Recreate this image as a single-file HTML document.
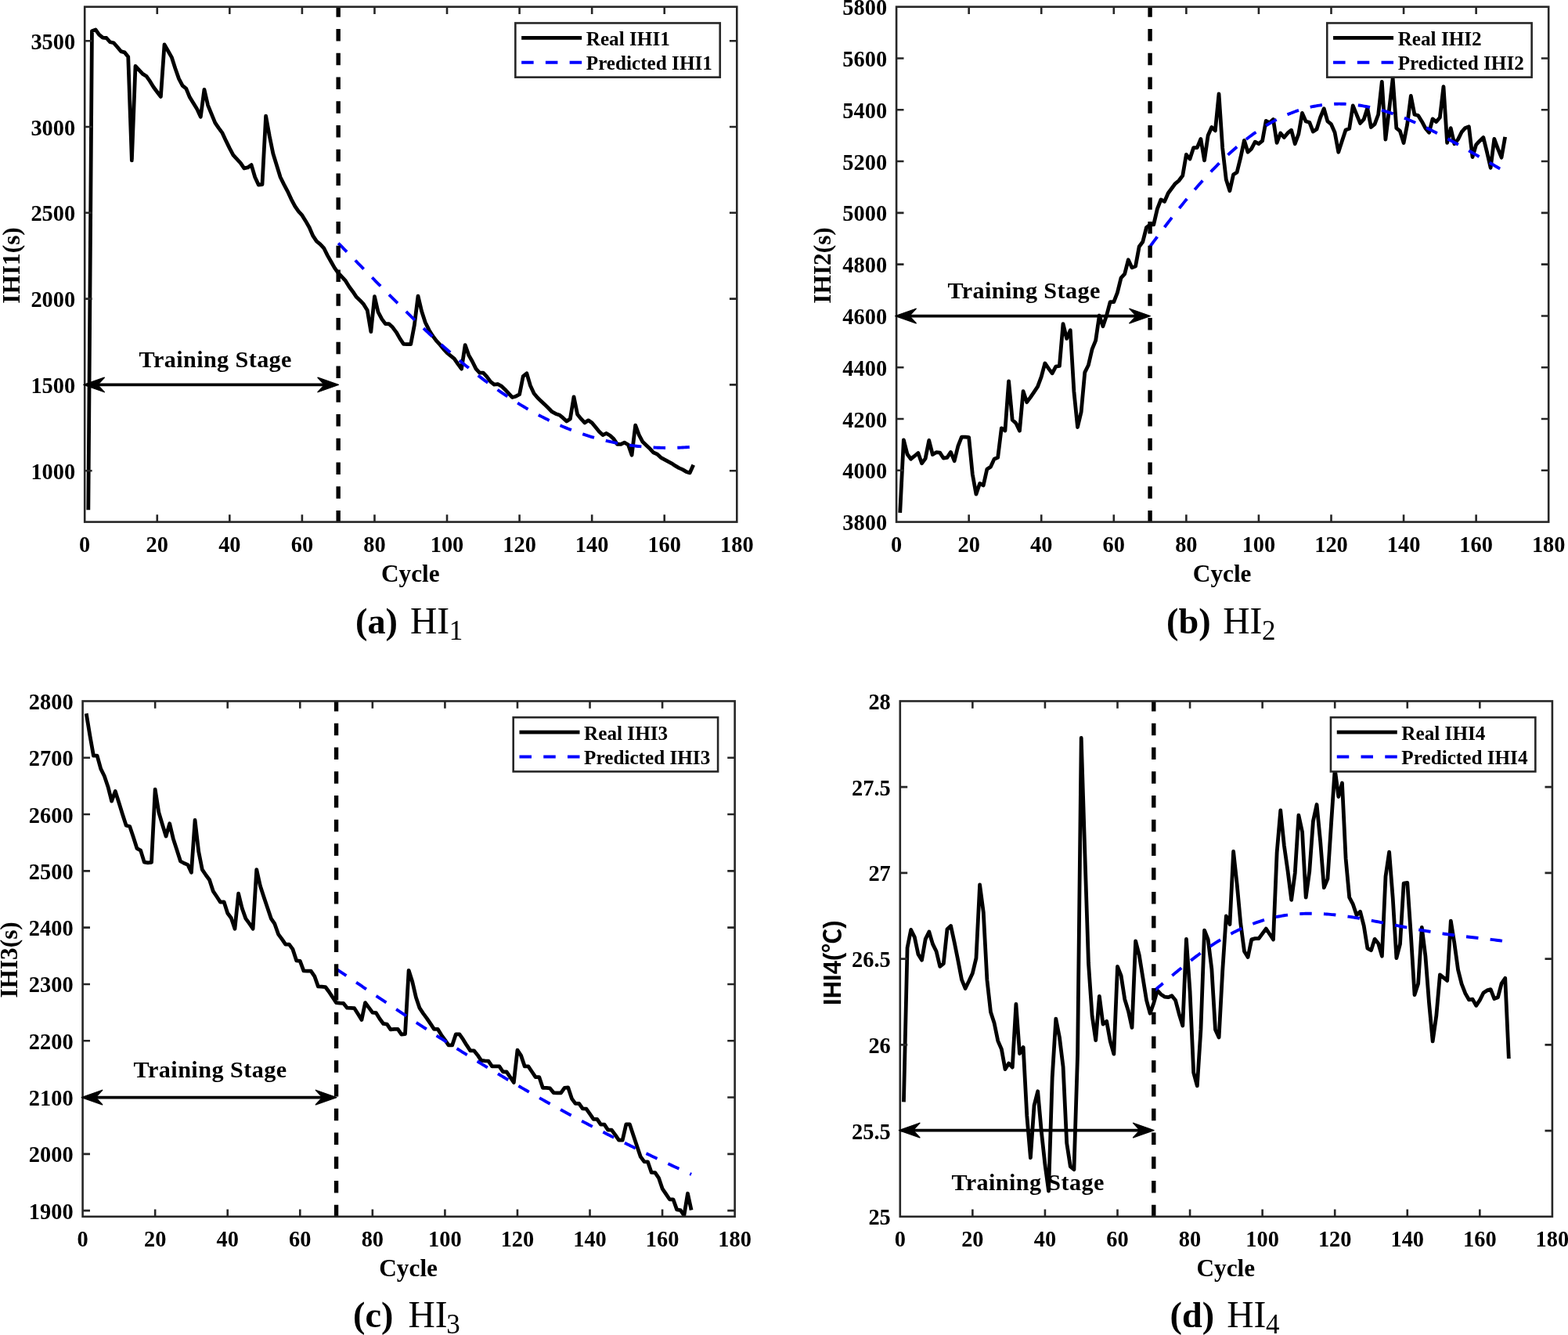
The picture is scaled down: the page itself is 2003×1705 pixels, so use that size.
<!DOCTYPE html>
<html lang="en">
<head>
<meta charset="utf-8">
<title>Predicted vs real indirect health indicators</title>
<style>
html,body{margin:0;padding:0;background:#fff;}
body{width:2003px;height:1705px;overflow:hidden;}
svg{display:block;}
text{fill:#000;}
</style>
</head>
<body>
<svg width="2003" height="1705" viewBox="0 0 2003 1705">
<rect x="0" y="0" width="2003" height="1705" fill="#fff"/>
<g class="chart" id="chart-a">
<clipPath id="clip-a"><rect x="108.2" y="8.7" width="833.1" height="657.9"/></clipPath>
<g clip-path="url(#clip-a)">
<polyline points="112.83,651.2 117.46,39.74 122.09,37.87 126.71,44.36 131.34,48.11 135.97,48.49 140.6,53.73 145.23,54.73 149.86,59.98 154.48,65.6 159.11,66.85 163.74,72.47 168.37,204.91 173,84.34 177.62,89.34 182.25,94.34 186.88,97.21 191.51,103.71 196.14,111.2 200.77,117.45 205.39,123.45 210.02,56.86 214.65,64.98 219.28,73.1 223.91,87.47 228.54,100.58 233.16,109.33 237.79,113.08 242.42,124.32 247.05,131.82 251.68,139.32 256.31,149.31 260.94,114.33 265.56,134.32 270.19,145.56 274.82,156.81 279.45,163.68 284.08,169.93 288.7,179.92 293.33,189.35 297.96,198.1 302.59,203.09 307.22,208.09 311.85,214.96 316.47,213.96 321.1,210.59 325.73,226.21 330.36,236.2 334.99,235.58 339.62,148.12 344.25,173.73 348.87,196.22 353.5,211.21 358.13,226.21 362.76,235.58 367.39,244.32 372.01,254.32 376.64,263.06 381.27,269.94 385.9,274.93 390.53,282.43 395.16,290.55 399.78,301.17 404.41,308.04 409.04,311.79 413.67,316.79 418.3,326.16 422.93,334.28 427.55,342.4 432.18,348.72 436.81,353.72 441.44,358.72 446.07,366.21 450.7,372.46 455.32,379.33 459.95,383.7 464.58,388.7 469.21,396.2 473.84,423.68 478.47,378.71 483.09,398.7 487.72,407.44 492.35,413.69 496.98,413.69 501.61,418.06 506.24,424.31 510.86,432.43 515.49,439.3 520.12,439.55 524.75,439.68 529.38,414.94 534.01,378.08 538.63,397.45 543.26,411.81 547.89,421.18 552.52,428.68 557.15,434.93 561.78,439.93 566.4,445.55 571.03,450.54 575.66,454.29 580.29,458.04 584.92,464.91 589.55,471.16 594.17,440.55 598.8,453.67 603.43,461.79 608.06,471.16 612.69,476.16 617.32,476.16 621.95,481.15 626.57,487.4 631.2,491.15 635.83,490.52 640.46,493.1 645.09,497.47 649.71,502.47 654.34,507.47 658.97,506.22 663.6,503.72 668.23,480.6 672.86,476.86 677.49,492.47 682.11,502.47 686.74,508.09 691.37,512.46 696,516.84 700.63,521.21 705.25,525.96 709.88,528.46 714.51,529.96 719.14,533.7 723.77,538.08 728.4,534.95 733.02,506.84 737.65,529.33 742.28,534.95 746.91,539.95 751.54,536.83 756.17,539.95 760.79,545.57 765.42,551.19 770.05,555.57 774.68,553.44 779.31,556.19 783.94,560.56 788.56,567.44 793.19,567.44 797.82,565.19 802.45,568.06 807.08,581.18 811.71,543.07 816.34,555.57 820.96,564.31 825.59,568.69 830.22,573.06 834.85,578.06 839.48,579.93 844.11,584.3 848.73,586.8 853.36,589.3 857.99,591.8 862.62,594.92 867.25,597.67 871.87,599.67 876.5,602.42 881.13,603.92 885.76,593.67" fill="none" stroke="#000" stroke-width="4.8" stroke-linejoin="round" stroke-linecap="butt"/>
<polyline points="432.18,310.6 434.46,312.9 436.74,315.2 439.02,317.51 441.3,319.82 443.58,322.13 445.86,324.45 448.14,326.76 450.42,329.08 452.7,331.4 454.98,333.73 457.26,336.05 459.53,338.37 461.81,340.7 464.09,343.02 466.37,345.35 468.65,347.67 470.93,349.99 473.21,352.31 475.49,354.63 477.77,356.95 480.05,359.26 482.33,361.57 484.61,363.88 486.89,366.19 489.17,368.49 491.44,370.79 493.72,373.08 496,375.37 498.28,377.66 500.56,379.94 502.84,382.21 505.12,384.48 507.4,386.74 509.68,389 511.96,391.25 514.24,393.5 516.52,395.74 518.8,397.97 521.08,400.19 523.35,402.41 525.63,404.61 527.91,406.81 530.19,409.01 532.47,411.19 534.75,413.36 537.03,415.53 539.31,417.69 541.59,419.83 543.87,421.97 546.15,424.1 548.43,426.21 550.71,428.32 552.99,430.42 555.26,432.5 557.54,434.58 559.82,436.64 562.1,438.7 564.38,440.74 566.66,442.77 568.94,444.78 571.22,446.79 573.5,448.78 575.78,450.76 578.06,452.73 580.34,454.69 582.62,456.63 584.9,458.56 587.17,460.48 589.45,462.38 591.73,464.27 594.01,466.15 596.29,468.01 598.57,469.86 600.85,471.69 603.13,473.51 605.41,475.31 607.69,477.1 609.97,478.88 612.25,480.64 614.53,482.39 616.8,484.12 619.08,485.83 621.36,487.53 623.64,489.22 625.92,490.89 628.2,492.54 630.48,494.18 632.76,495.8 635.04,497.41 637.32,499 639.6,500.57 641.88,502.13 644.16,503.67 646.44,505.2 648.71,506.71 650.99,508.2 653.27,509.67 655.55,511.13 657.83,512.57 660.11,514 662.39,515.41 664.67,516.8 666.95,518.17 669.23,519.53 671.51,520.87 673.79,522.19 676.07,523.49 678.35,524.78 680.62,526.05 682.9,527.3 685.18,528.54 687.46,529.76 689.74,530.96 692.02,532.14 694.3,533.3 696.58,534.45 698.86,535.58 701.14,536.69 703.42,537.79 705.7,538.86 707.98,539.92 710.26,540.96 712.53,541.98 714.81,542.99 717.09,543.98 719.37,544.95 721.65,545.9 723.93,546.83 726.21,547.75 728.49,548.65 730.77,549.53 733.05,550.39 735.33,551.24 737.61,552.06 739.89,552.87 742.17,553.66 744.44,554.44 746.72,555.2 749,555.94 751.28,556.66 753.56,557.36 755.84,558.05 758.12,558.72 760.4,559.37 762.68,560 764.96,560.62 767.24,561.22 769.52,561.8 771.8,562.37 774.08,562.92 776.35,563.45 778.63,563.96 780.91,564.46 783.19,564.94 785.47,565.4 787.75,565.85 790.03,566.28 792.31,566.7 794.59,567.09 796.87,567.48 799.15,567.84 801.43,568.19 803.71,568.52 805.99,568.84 808.26,569.14 810.54,569.42 812.82,569.69 815.1,569.95 817.38,570.18 819.66,570.41 821.94,570.61 824.22,570.81 826.5,570.98 828.78,571.14 831.06,571.29 833.34,571.42 835.62,571.54 837.9,571.64 840.17,571.73 842.45,571.81 844.73,571.87 847.01,571.91 849.29,571.94 851.57,571.96 853.85,571.97 856.13,571.96 858.41,571.94 860.69,571.9 862.97,571.85 865.25,571.79 867.53,571.72 869.81,571.63 872.08,571.53 874.36,571.42 876.64,571.3 878.92,571.16 881.2,571.02 883.48,570.86 885.76,570.69" fill="none" stroke="#0000ff" stroke-width="3.9" stroke-dasharray="15.5 15.25"/>
<line x1="432.18" y1="6.3" x2="432.18" y2="706.6" stroke="#000" stroke-width="5.4" stroke-dasharray="15.5 15.25"/>
</g>
<text x="275.05" y="469.4" text-anchor="middle" font-family='"Liberation Serif", serif' font-weight="bold" font-size="30.2" textLength="194.9" lengthAdjust="spacing">Training Stage</text>
<rect x="108.2" y="8.7" width="833.1" height="657.9" fill="none" stroke="#262626" stroke-width="2.6"/>
<path d="M200.77 666.6v-9.4 M200.77 8.7v9.4 M293.33 666.6v-9.4 M293.33 8.7v9.4 M385.9 666.6v-9.4 M385.9 8.7v9.4 M478.47 666.6v-9.4 M478.47 8.7v9.4 M571.03 666.6v-9.4 M571.03 8.7v9.4 M663.6 666.6v-9.4 M663.6 8.7v9.4 M756.17 666.6v-9.4 M756.17 8.7v9.4 M848.73 666.6v-9.4 M848.73 8.7v9.4 M108.2 601.2h9.4 M941.3 601.2h-9.4 M108.2 491.4h9.4 M941.3 491.4h-9.4 M108.2 381.6h9.4 M941.3 381.6h-9.4 M108.2 271.8h9.4 M941.3 271.8h-9.4 M108.2 162h9.4 M941.3 162h-9.4 M108.2 52.2h9.4 M941.3 52.2h-9.4" fill="none" stroke="#262626" stroke-width="2.6"/>
<line x1="124.4" y1="491.4" x2="414.88" y2="491.4" stroke="#000" stroke-width="3.7"/>
<polygon points="106.9,491.4 133.25,482.15 124.65,491.4 133.25,500.65" fill="#000" stroke="#000" stroke-width="1.5" stroke-linejoin="round"/>
<polygon points="432.38,491.4 406.03,482.15 414.63,491.4 406.03,500.65" fill="#000" stroke="#000" stroke-width="1.5" stroke-linejoin="round"/>
<g font-family='"Liberation Serif", serif' font-weight="bold" font-size="28.4" fill="#000">
<text x="108.2" y="705.2" text-anchor="middle">0</text>
<text x="200.77" y="705.2" text-anchor="middle">20</text>
<text x="293.33" y="705.2" text-anchor="middle">40</text>
<text x="385.9" y="705.2" text-anchor="middle">60</text>
<text x="478.47" y="705.2" text-anchor="middle">80</text>
<text x="571.03" y="705.2" text-anchor="middle">100</text>
<text x="663.6" y="705.2" text-anchor="middle">120</text>
<text x="756.17" y="705.2" text-anchor="middle">140</text>
<text x="848.73" y="705.2" text-anchor="middle">160</text>
<text x="941.3" y="705.2" text-anchor="middle">180</text>
<text x="96.2" y="611.7" text-anchor="end">1000</text>
<text x="96.2" y="501.9" text-anchor="end">1500</text>
<text x="96.2" y="392.1" text-anchor="end">2000</text>
<text x="96.2" y="282.3" text-anchor="end">2500</text>
<text x="96.2" y="172.5" text-anchor="end">3000</text>
<text x="96.2" y="62.7" text-anchor="end">3500</text>
</g>
<text x="524.25" y="742.5" text-anchor="middle" font-family='"Liberation Serif", serif' font-weight="bold" font-size="31.3">Cycle</text>
<text transform="translate(24.8 338.95) rotate(-90)" text-anchor="middle" font-family='"Liberation Serif", serif' font-weight="bold" font-size="31.3">IHI1(s)</text>
<rect x="658.35" y="29.45" width="261.4" height="69.2" fill="#fff" stroke="#262626" stroke-width="2.6"/>
<line x1="666.15" y1="48.45" x2="743.15" y2="48.45" stroke="#000" stroke-width="4.8"/>
<line x1="666.15" y1="79.75" x2="743.15" y2="79.75" stroke="#0000ff" stroke-width="3.9" stroke-dasharray="15.5 15.25" stroke-dashoffset="0"/>
<g font-family='"Liberation Serif", serif' font-weight="bold" font-size="25.2" fill="#000">
<text x="748.75" y="58.1">Real IHI1</text>
<text x="748.75" y="88.95">Predicted IHI1</text>
</g>
<text x="454" y="809.1" font-family='"Liberation Serif", serif' font-weight="bold" font-size="46.3">(a)</text>
<text x="524" y="809.1" font-family='"Liberation Serif", serif' font-size="47.5">HI</text>
<text x="573.8" y="816.6" font-family='"Liberation Serif", serif' font-size="35">1</text>
</g>
<g class="chart" id="chart-b">
<clipPath id="clip-b"><rect x="1145.1" y="8.7" width="833.1" height="657.9"/></clipPath>
<g clip-path="url(#clip-b)">
<polyline points="1149.73,654.92 1154.36,561.84 1158.98,579.96 1163.61,586.21 1168.24,582.46 1172.87,578.46 1177.5,591.83 1182.13,585.58 1186.75,562.47 1191.38,580.58 1196.01,577.71 1200.64,578.09 1205.27,585.21 1209.9,584.33 1214.52,577.46 1219.15,588.71 1223.78,569.97 1228.41,558.1 1233.04,558.1 1237.67,558.72 1242.29,605.57 1246.92,631.18 1251.55,617.44 1256.18,619.94 1260.81,599.33 1265.44,596.2 1270.06,586.21 1274.69,584.33 1279.32,546.79 1283.95,549.92 1288.58,486.82 1293.21,536.17 1297.84,540.54 1302.46,550.16 1307.09,499.69 1311.72,513.68 1316.35,507.44 1320.98,500.56 1325.61,493.69 1330.23,481.2 1334.86,463.96 1339.49,470.58 1344.12,476.83 1348.75,468.08 1353.38,467.46 1358,413.66 1362.63,432.4 1367.26,421.78 1371.89,499.94 1376.52,545.54 1381.14,526.18 1385.77,475.58 1390.4,466.2 1395.03,446.2 1399.66,434.9 1404.29,403.04 1408.91,416.78 1413.54,403.04 1418.17,385.55 1422.8,385.55 1427.43,373.68 1432.06,354.94 1436.68,349.94 1441.31,331.82 1445.94,341.82 1450.57,339.95 1455.2,314.96 1459.83,308.71 1464.45,290.59 1469.08,286.85 1473.71,286.85 1478.34,266.86 1482.97,254.91 1487.6,257.41 1492.22,246.79 1496.85,240.54 1501.48,234.3 1506.11,230.55 1510.74,224.3 1515.37,197.44 1519.99,203.06 1524.62,188.7 1529.25,188.7 1533.88,177.45 1538.51,204.94 1543.14,173.08 1547.76,162.46 1552.39,166.83 1557.02,119.98 1561.65,188.7 1566.28,229.3 1570.91,243.67 1575.54,223.05 1580.16,219.93 1584.79,201.19 1589.42,179.33 1594.05,194.32 1598.68,189.95 1603.3,181.2 1607.93,183.7 1612.56,179.95 1617.19,154.34 1621.82,156.84 1626.45,152.46 1631.08,182.45 1635.7,169.96 1640.33,175.58 1644.96,169.96 1649.59,166.21 1654.22,183.7 1658.85,171.2 1663.47,144.34 1668.1,154.96 1672.73,156.21 1677.36,168.08 1681.99,164.96 1686.62,149.97 1691.24,138.72 1695.87,154.96 1700.5,158.71 1705.13,169.33 1709.76,194.31 1714.38,179.94 1719.01,165.95 1723.64,164.32 1728.27,134.96 1732.9,146.21 1737.53,157.45 1742.16,152.45 1746.78,138.09 1751.41,162.45 1756.04,158.7 1760.67,146.21 1765.3,104.35 1769.92,178.07 1774.55,139.96 1779.18,99.98 1783.81,163.7 1788.44,167.45 1793.07,182.44 1797.7,158.7 1802.32,122.47 1806.95,146.21 1811.58,147.46 1816.21,154.95 1820.84,163.7 1825.47,169.32 1830.09,151.83 1834.72,155.58 1839.35,149.96 1843.98,110.6 1848.61,182.44 1853.24,163.7 1857.86,183.69 1862.49,178.07 1867.12,168.7 1871.75,163.45 1876.38,161.82 1881.01,200.55 1885.63,184.94 1890.26,179.94 1894.89,175.57 1899.52,194.31 1904.15,214.3 1908.78,177.44 1913.4,189.94 1918.03,201.18 1922.66,174.94" fill="none" stroke="#000" stroke-width="4.8" stroke-linejoin="round" stroke-linecap="butt"/>
<polyline points="1469.08,314.8 1471.36,311.72 1473.64,308.64 1475.92,305.58 1478.2,302.53 1480.48,299.5 1482.76,296.47 1485.04,293.46 1487.32,290.46 1489.6,287.48 1491.88,284.52 1494.16,281.57 1496.43,278.63 1498.71,275.72 1500.99,272.82 1503.27,269.94 1505.55,267.08 1507.83,264.24 1510.11,261.43 1512.39,258.63 1514.67,255.86 1516.95,253.1 1519.23,250.37 1521.51,247.67 1523.79,244.99 1526.07,242.33 1528.34,239.7 1530.62,237.09 1532.9,234.51 1535.18,231.96 1537.46,229.43 1539.74,226.93 1542.02,224.46 1544.3,222.01 1546.58,219.6 1548.86,217.21 1551.14,214.85 1553.42,212.52 1555.7,210.22 1557.98,207.95 1560.25,205.72 1562.53,203.51 1564.81,201.33 1567.09,199.19 1569.37,197.07 1571.65,194.99 1573.93,192.94 1576.21,190.93 1578.49,188.94 1580.77,186.99 1583.05,185.08 1585.33,183.19 1587.61,181.34 1589.89,179.52 1592.16,177.74 1594.44,175.99 1596.72,174.27 1599,172.59 1601.28,170.95 1603.56,169.33 1605.84,167.76 1608.12,166.21 1610.4,164.71 1612.68,163.23 1614.96,161.8 1617.24,160.39 1619.52,159.02 1621.8,157.69 1624.07,156.39 1626.35,155.13 1628.63,153.9 1630.91,152.71 1633.19,151.56 1635.47,150.43 1637.75,149.35 1640.03,148.3 1642.31,147.28 1644.59,146.3 1646.87,145.36 1649.15,144.44 1651.43,143.57 1653.7,142.73 1655.98,141.92 1658.26,141.15 1660.54,140.41 1662.82,139.71 1665.1,139.04 1667.38,138.41 1669.66,137.81 1671.94,137.24 1674.22,136.71 1676.5,136.21 1678.78,135.75 1681.06,135.32 1683.34,134.92 1685.61,134.56 1687.89,134.22 1690.17,133.93 1692.45,133.66 1694.73,133.42 1697.01,133.22 1699.29,133.05 1701.57,132.91 1703.85,132.81 1706.13,132.73 1708.41,132.68 1710.69,132.67 1712.97,132.69 1715.25,132.73 1717.52,132.81 1719.8,132.92 1722.08,133.05 1724.36,133.22 1726.64,133.41 1728.92,133.63 1731.2,133.88 1733.48,134.16 1735.76,134.47 1738.04,134.8 1740.32,135.16 1742.6,135.55 1744.88,135.97 1747.16,136.41 1749.43,136.87 1751.71,137.37 1753.99,137.88 1756.27,138.43 1758.55,138.99 1760.83,139.58 1763.11,140.2 1765.39,140.84 1767.67,141.5 1769.95,142.18 1772.23,142.89 1774.51,143.62 1776.79,144.37 1779.07,145.14 1781.34,145.93 1783.62,146.75 1785.9,147.58 1788.18,148.43 1790.46,149.31 1792.74,150.2 1795.02,151.11 1797.3,152.04 1799.58,152.98 1801.86,153.95 1804.14,154.93 1806.42,155.93 1808.7,156.94 1810.98,157.97 1813.25,159.02 1815.53,160.08 1817.81,161.15 1820.09,162.24 1822.37,163.34 1824.65,164.46 1826.93,165.59 1829.21,166.73 1831.49,167.89 1833.77,169.05 1836.05,170.23 1838.33,171.42 1840.61,172.62 1842.89,173.83 1845.16,175.05 1847.44,176.28 1849.72,177.51 1852,178.76 1854.28,180.01 1856.56,181.27 1858.84,182.54 1861.12,183.81 1863.4,185.09 1865.68,186.38 1867.96,187.67 1870.24,188.97 1872.52,190.27 1874.8,191.58 1877.07,192.89 1879.35,194.2 1881.63,195.52 1883.91,196.83 1886.19,198.15 1888.47,199.48 1890.75,200.8 1893.03,202.12 1895.31,203.45 1897.59,204.77 1899.87,206.1 1902.15,207.42 1904.43,208.74 1906.71,210.06 1908.98,211.38 1911.26,212.7 1913.54,214.01 1915.82,215.32 1918.1,216.63 1920.38,217.93 1922.66,219.23" fill="none" stroke="#0000ff" stroke-width="3.9" stroke-dasharray="15.5 15.25"/>
<line x1="1469.08" y1="6.3" x2="1469.08" y2="706.6" stroke="#000" stroke-width="5.4" stroke-dasharray="15.5 15.25"/>
</g>
<text x="1307.9" y="380.7" text-anchor="middle" font-family='"Liberation Serif", serif' font-weight="bold" font-size="30.2" textLength="194.8" lengthAdjust="spacing">Training Stage</text>
<rect x="1145.1" y="8.7" width="833.1" height="657.9" fill="none" stroke="#262626" stroke-width="2.6"/>
<path d="M1237.67 666.6v-9.4 M1237.67 8.7v9.4 M1330.23 666.6v-9.4 M1330.23 8.7v9.4 M1422.8 666.6v-9.4 M1422.8 8.7v9.4 M1515.37 666.6v-9.4 M1515.37 8.7v9.4 M1607.93 666.6v-9.4 M1607.93 8.7v9.4 M1700.5 666.6v-9.4 M1700.5 8.7v9.4 M1793.07 666.6v-9.4 M1793.07 8.7v9.4 M1885.63 666.6v-9.4 M1885.63 8.7v9.4 M1145.1 600.81h9.4 M1978.2 600.81h-9.4 M1145.1 535.02h9.4 M1978.2 535.02h-9.4 M1145.1 469.23h9.4 M1978.2 469.23h-9.4 M1145.1 403.44h9.4 M1978.2 403.44h-9.4 M1145.1 337.65h9.4 M1978.2 337.65h-9.4 M1145.1 271.86h9.4 M1978.2 271.86h-9.4 M1145.1 206.07h9.4 M1978.2 206.07h-9.4 M1145.1 140.28h9.4 M1978.2 140.28h-9.4 M1145.1 74.49h9.4 M1978.2 74.49h-9.4" fill="none" stroke="#262626" stroke-width="2.6"/>
<line x1="1161.3" y1="403.6" x2="1451.78" y2="403.6" stroke="#000" stroke-width="3.7"/>
<polygon points="1143.8,403.6 1170.15,394.35 1161.55,403.6 1170.15,412.85" fill="#000" stroke="#000" stroke-width="1.5" stroke-linejoin="round"/>
<polygon points="1469.28,403.6 1442.93,394.35 1451.53,403.6 1442.93,412.85" fill="#000" stroke="#000" stroke-width="1.5" stroke-linejoin="round"/>
<g font-family='"Liberation Serif", serif' font-weight="bold" font-size="28.4" fill="#000">
<text x="1145.1" y="705.2" text-anchor="middle">0</text>
<text x="1237.67" y="705.2" text-anchor="middle">20</text>
<text x="1330.23" y="705.2" text-anchor="middle">40</text>
<text x="1422.8" y="705.2" text-anchor="middle">60</text>
<text x="1515.37" y="705.2" text-anchor="middle">80</text>
<text x="1607.93" y="705.2" text-anchor="middle">100</text>
<text x="1700.5" y="705.2" text-anchor="middle">120</text>
<text x="1793.07" y="705.2" text-anchor="middle">140</text>
<text x="1885.63" y="705.2" text-anchor="middle">160</text>
<text x="1978.2" y="705.2" text-anchor="middle">180</text>
<text x="1133.1" y="677.1" text-anchor="end">3800</text>
<text x="1133.1" y="611.31" text-anchor="end">4000</text>
<text x="1133.1" y="545.52" text-anchor="end">4200</text>
<text x="1133.1" y="479.73" text-anchor="end">4400</text>
<text x="1133.1" y="413.94" text-anchor="end">4600</text>
<text x="1133.1" y="348.15" text-anchor="end">4800</text>
<text x="1133.1" y="282.36" text-anchor="end">5000</text>
<text x="1133.1" y="216.57" text-anchor="end">5200</text>
<text x="1133.1" y="150.78" text-anchor="end">5400</text>
<text x="1133.1" y="84.99" text-anchor="end">5600</text>
<text x="1133.1" y="19.2" text-anchor="end">5800</text>
</g>
<text x="1561.15" y="742.5" text-anchor="middle" font-family='"Liberation Serif", serif' font-weight="bold" font-size="31.3">Cycle</text>
<text transform="translate(1060.8 338.95) rotate(-90)" text-anchor="middle" font-family='"Liberation Serif", serif' font-weight="bold" font-size="31.3">IHI2(s)</text>
<rect x="1695.25" y="29.45" width="261.4" height="69.2" fill="#fff" stroke="#262626" stroke-width="2.6"/>
<line x1="1703.05" y1="48.45" x2="1780.05" y2="48.45" stroke="#000" stroke-width="4.8"/>
<line x1="1703.05" y1="79.75" x2="1780.05" y2="79.75" stroke="#0000ff" stroke-width="3.9" stroke-dasharray="15.5 15.25" stroke-dashoffset="0"/>
<g font-family='"Liberation Serif", serif' font-weight="bold" font-size="25.2" fill="#000">
<text x="1785.65" y="58.1">Real IHI2</text>
<text x="1785.65" y="88.95">Predicted IHI2</text>
</g>
<text x="1490" y="809.1" font-family='"Liberation Serif", serif' font-weight="bold" font-size="46.3">(b)</text>
<text x="1562.2" y="809.1" font-family='"Liberation Serif", serif' font-size="47.5">HI</text>
<text x="1612" y="816.6" font-family='"Liberation Serif", serif' font-size="35">2</text>
</g>
<g class="chart" id="chart-c">
<clipPath id="clip-c"><rect x="105.6" y="895.45" width="833.05" height="658.35"/></clipPath>
<g clip-path="url(#clip-c)">
<polyline points="110.23,911.24 114.86,939.36 119.48,965.22 124.11,965.22 128.74,981.83 133.37,991.2 138,1004.95 142.62,1023.06 147.25,1010.57 151.88,1024.94 156.51,1039.93 161.14,1054.3 165.76,1055.55 170.39,1069.29 175.02,1083.66 179.65,1086.16 184.28,1101.15 188.9,1101.77 193.53,1101.4 198.16,1008.07 202.79,1037.43 207.42,1053.05 212.05,1068.04 216.67,1051.8 221.3,1071.16 225.93,1085.53 230.56,1099.99 235.19,1102.49 239.81,1104.36 244.44,1114.36 249.07,1047.43 253.7,1087.5 258.33,1110.61 262.95,1117.48 267.58,1123.73 272.21,1138.1 276.84,1144.97 281.47,1152.09 286.09,1151.84 290.72,1166.21 295.35,1172.45 299.98,1186.2 304.61,1141.22 309.23,1159.96 313.86,1173.08 318.49,1179.33 323.12,1186.2 327.75,1110.61 332.37,1131.22 337,1145.59 341.63,1159.34 346.26,1173.08 350.89,1179.95 355.51,1193.07 360.14,1199.32 364.77,1206.19 369.4,1206.19 374.03,1212.43 378.66,1226.8 383.28,1227.43 387.91,1239.92 392.54,1240.17 397.17,1240.17 401.8,1246.79 406.42,1259.91 411.05,1260.16 415.68,1260.53 420.31,1266.78 424.94,1273.72 429.56,1280.59 434.19,1281.21 438.82,1281.46 443.45,1287.21 448.08,1287.46 452.7,1287.71 457.33,1294.96 461.96,1302.45 466.59,1280.59 471.22,1286.84 475.84,1293.08 480.47,1293.71 485.1,1301.2 489.73,1307.45 494.36,1308.08 498.98,1314.95 503.61,1314.32 508.24,1314.32 512.87,1321.19 517.5,1320.57 522.12,1239.36 526.75,1253.73 531.38,1273.72 536.01,1287.46 540.64,1294.33 545.27,1300.58 549.89,1307.45 554.52,1314.32 559.15,1314.32 563.78,1321.82 568.41,1328.07 573.03,1334.94 577.66,1334.94 582.29,1320.94 586.92,1320.94 591.55,1327.44 596.17,1334.94 600.8,1341.81 605.43,1341.81 610.06,1347.43 614.69,1354.3 619.31,1354.93 623.94,1355.18 628.57,1361.8 633.2,1361.8 637.83,1361.8 642.45,1368.74 647.08,1368.99 651.71,1375.61 656.34,1382.48 660.97,1341.18 665.59,1348.12 670.22,1361.87 674.85,1361.87 679.48,1368.74 684.11,1375.61 688.74,1375.61 693.36,1389.35 697.99,1389.35 702.62,1389.98 707.25,1395.6 711.88,1395.97 716.5,1395.97 721.13,1389.35 725.76,1388.98 730.39,1403.1 735.02,1409.34 739.64,1409.34 744.27,1415.96 748.9,1416.21 753.53,1422.71 758.16,1429.33 762.78,1429.33 767.41,1436.2 772.04,1436.2 776.67,1443.08 781.3,1443.08 785.92,1449.32 790.55,1456.19 795.18,1456.19 799.81,1435.95 804.44,1435.95 809.06,1449.95 813.69,1463.69 818.32,1477.43 822.95,1483.68 827.58,1483.93 832.2,1497.42 836.83,1497.67 841.46,1504.3 846.09,1518.04 850.72,1524.91 855.35,1531.78 859.97,1531.78 864.6,1544.9 869.23,1545.52 873.86,1552.4 878.49,1524.29 883.11,1545.52" fill="none" stroke="#000" stroke-width="4.8" stroke-linejoin="round" stroke-linecap="butt"/>
<polyline points="429.56,1237.51 431.84,1239.04 434.12,1240.58 436.4,1242.11 438.68,1243.64 440.96,1245.18 443.24,1246.71 445.52,1248.25 447.8,1249.78 450.08,1251.32 452.36,1252.85 454.63,1254.39 456.91,1255.92 459.19,1257.46 461.47,1258.99 463.75,1260.52 466.03,1262.06 468.31,1263.59 470.59,1265.12 472.87,1266.65 475.15,1268.19 477.43,1269.72 479.71,1271.24 481.98,1272.77 484.26,1274.3 486.54,1275.83 488.82,1277.35 491.1,1278.88 493.38,1280.4 495.66,1281.92 497.94,1283.44 500.22,1284.96 502.5,1286.48 504.78,1287.99 507.05,1289.51 509.33,1291.02 511.61,1292.53 513.89,1294.04 516.17,1295.55 518.45,1297.06 520.73,1298.56 523.01,1300.06 525.29,1301.56 527.57,1303.06 529.85,1304.56 532.13,1306.05 534.4,1307.54 536.68,1309.03 538.96,1310.52 541.24,1312.01 543.52,1313.49 545.8,1314.97 548.08,1316.45 550.36,1317.92 552.64,1319.4 554.92,1320.87 557.2,1322.34 559.48,1323.8 561.75,1325.27 564.03,1326.73 566.31,1328.19 568.59,1329.64 570.87,1331.09 573.15,1332.54 575.43,1333.99 577.71,1335.43 579.99,1336.88 582.27,1338.32 584.55,1339.75 586.82,1341.18 589.1,1342.61 591.38,1344.04 593.66,1345.47 595.94,1346.89 598.22,1348.3 600.5,1349.72 602.78,1351.13 605.06,1352.54 607.34,1353.95 609.62,1355.35 611.9,1356.75 614.17,1358.14 616.45,1359.54 618.73,1360.93 621.01,1362.31 623.29,1363.7 625.57,1365.08 627.85,1366.45 630.13,1367.83 632.41,1369.2 634.69,1370.56 636.97,1371.93 639.25,1373.29 641.52,1374.64 643.8,1376 646.08,1377.35 648.36,1378.7 650.64,1380.04 652.92,1381.38 655.2,1382.72 657.48,1384.05 659.76,1385.38 662.04,1386.7 664.32,1388.03 666.59,1389.35 668.87,1390.66 671.15,1391.98 673.43,1393.29 675.71,1394.59 677.99,1395.89 680.27,1397.19 682.55,1398.49 684.83,1399.78 687.11,1401.07 689.39,1402.35 691.67,1403.64 693.94,1404.91 696.22,1406.19 698.5,1407.46 700.78,1408.73 703.06,1409.99 705.34,1411.25 707.62,1412.51 709.9,1413.76 712.18,1415.01 714.46,1416.26 716.74,1417.51 719.02,1418.75 721.29,1419.98 723.57,1421.22 725.85,1422.45 728.13,1423.67 730.41,1424.9 732.69,1426.12 734.97,1427.33 737.25,1428.55 739.53,1429.76 741.81,1430.96 744.09,1432.17 746.36,1433.37 748.64,1434.56 750.92,1435.76 753.2,1436.95 755.48,1438.13 757.76,1439.32 760.04,1440.5 762.32,1441.68 764.6,1442.85 766.88,1444.02 769.16,1445.19 771.44,1446.35 773.71,1447.51 775.99,1448.67 778.27,1449.83 780.55,1450.98 782.83,1452.13 785.11,1453.27 787.39,1454.41 789.67,1455.55 791.95,1456.69 794.23,1457.82 796.51,1458.95 798.79,1460.08 801.06,1461.2 803.34,1462.33 805.62,1463.44 807.9,1464.56 810.18,1465.67 812.46,1466.78 814.74,1467.89 817.02,1468.99 819.3,1470.09 821.58,1471.19 823.86,1472.29 826.13,1473.38 828.41,1474.47 830.69,1475.56 832.97,1476.64 835.25,1477.72 837.53,1478.8 839.81,1479.88 842.09,1480.95 844.37,1482.02 846.65,1483.09 848.93,1484.16 851.21,1485.22 853.48,1486.28 855.76,1487.34 858.04,1488.39 860.32,1489.45 862.6,1490.5 864.88,1491.55 867.16,1492.59 869.44,1493.63 871.72,1494.68 874,1495.71 876.28,1496.75 878.56,1497.78 880.83,1498.82 883.11,1499.85" fill="none" stroke="#0000ff" stroke-width="3.9" stroke-dasharray="15.5 15.25"/>
<line x1="429.56" y1="893" x2="429.56" y2="1593.8" stroke="#000" stroke-width="5.4" stroke-dasharray="15.5 15.25"/>
</g>
<text x="268.35" y="1376.1" text-anchor="middle" font-family='"Liberation Serif", serif' font-weight="bold" font-size="30.2" textLength="195.5" lengthAdjust="spacing">Training Stage</text>
<rect x="105.6" y="895.45" width="833.05" height="658.35" fill="none" stroke="#262626" stroke-width="2.6"/>
<path d="M198.16 1553.8v-9.4 M198.16 895.45v9.4 M290.72 1553.8v-9.4 M290.72 895.45v9.4 M383.28 1553.8v-9.4 M383.28 895.45v9.4 M475.84 1553.8v-9.4 M475.84 895.45v9.4 M568.41 1553.8v-9.4 M568.41 895.45v9.4 M660.97 1553.8v-9.4 M660.97 895.45v9.4 M753.53 1553.8v-9.4 M753.53 895.45v9.4 M846.09 1553.8v-9.4 M846.09 895.45v9.4 M105.6 1546.15h9.4 M938.65 1546.15h-9.4 M105.6 1473.85h9.4 M938.65 1473.85h-9.4 M105.6 1401.55h9.4 M938.65 1401.55h-9.4 M105.6 1329.25h9.4 M938.65 1329.25h-9.4 M105.6 1256.95h9.4 M938.65 1256.95h-9.4 M105.6 1184.65h9.4 M938.65 1184.65h-9.4 M105.6 1112.35h9.4 M938.65 1112.35h-9.4 M105.6 1040.05h9.4 M938.65 1040.05h-9.4 M105.6 967.75h9.4 M938.65 967.75h-9.4" fill="none" stroke="#262626" stroke-width="2.6"/>
<line x1="121.8" y1="1401.6" x2="412.26" y2="1401.6" stroke="#000" stroke-width="3.7"/>
<polygon points="104.3,1401.6 130.65,1392.35 122.05,1401.6 130.65,1410.85" fill="#000" stroke="#000" stroke-width="1.5" stroke-linejoin="round"/>
<polygon points="429.76,1401.6 403.41,1392.35 412.01,1401.6 403.41,1410.85" fill="#000" stroke="#000" stroke-width="1.5" stroke-linejoin="round"/>
<g font-family='"Liberation Serif", serif' font-weight="bold" font-size="28.4" fill="#000">
<text x="105.6" y="1592.4" text-anchor="middle">0</text>
<text x="198.16" y="1592.4" text-anchor="middle">20</text>
<text x="290.72" y="1592.4" text-anchor="middle">40</text>
<text x="383.28" y="1592.4" text-anchor="middle">60</text>
<text x="475.84" y="1592.4" text-anchor="middle">80</text>
<text x="568.41" y="1592.4" text-anchor="middle">100</text>
<text x="660.97" y="1592.4" text-anchor="middle">120</text>
<text x="753.53" y="1592.4" text-anchor="middle">140</text>
<text x="846.09" y="1592.4" text-anchor="middle">160</text>
<text x="938.65" y="1592.4" text-anchor="middle">180</text>
<text x="93.6" y="1556.65" text-anchor="end">1900</text>
<text x="93.6" y="1484.35" text-anchor="end">2000</text>
<text x="93.6" y="1412.05" text-anchor="end">2100</text>
<text x="93.6" y="1339.75" text-anchor="end">2200</text>
<text x="93.6" y="1267.45" text-anchor="end">2300</text>
<text x="93.6" y="1195.15" text-anchor="end">2400</text>
<text x="93.6" y="1122.85" text-anchor="end">2500</text>
<text x="93.6" y="1050.55" text-anchor="end">2600</text>
<text x="93.6" y="978.25" text-anchor="end">2700</text>
<text x="93.6" y="905.95" text-anchor="end">2800</text>
</g>
<text x="521.62" y="1629.7" text-anchor="middle" font-family='"Liberation Serif", serif' font-weight="bold" font-size="31.3">Cycle</text>
<text transform="translate(21.8 1225.92) rotate(-90)" text-anchor="middle" font-family='"Liberation Serif", serif' font-weight="bold" font-size="31.3">IHI3(s)</text>
<rect x="655.7" y="916.2" width="261.4" height="69.2" fill="#fff" stroke="#262626" stroke-width="2.6"/>
<line x1="663.5" y1="935.2" x2="740.5" y2="935.2" stroke="#000" stroke-width="4.8"/>
<line x1="663.5" y1="966.5" x2="740.5" y2="966.5" stroke="#0000ff" stroke-width="3.9" stroke-dasharray="15.5 15.25" stroke-dashoffset="0"/>
<g font-family='"Liberation Serif", serif' font-weight="bold" font-size="25.2" fill="#000">
<text x="746.1" y="944.85">Real IHI3</text>
<text x="746.1" y="975.7">Predicted IHI3</text>
</g>
<text x="451" y="1695.1" font-family='"Liberation Serif", serif' font-weight="bold" font-size="46.3">(c)</text>
<text x="521.5" y="1695.1" font-family='"Liberation Serif", serif' font-size="47.5">HI</text>
<text x="570.3" y="1702.6" font-family='"Liberation Serif", serif' font-size="35">3</text>
</g>
<g class="chart" id="chart-d">
<clipPath id="clip-d"><rect x="1149.8" y="895.45" width="833.1" height="658.35"/></clipPath>
<g clip-path="url(#clip-d)">
<polyline points="1154.43,1407.43 1159.06,1210.56 1163.68,1187.45 1168.31,1196.82 1172.94,1218.69 1177.57,1226.18 1182.2,1199.32 1186.83,1189.95 1191.45,1205.57 1196.08,1214.94 1200.71,1234.3 1205.34,1230.55 1209.97,1186.83 1214.6,1182.45 1219.22,1203.69 1223.85,1226.81 1228.48,1251.17 1233.11,1262.41 1237.74,1253.04 1242.37,1243.05 1246.99,1223.68 1251.62,1129.98 1256.25,1164.96 1260.88,1251.17 1265.51,1292.49 1270.14,1306.86 1274.76,1329.35 1279.39,1339.97 1284.02,1365.61 1288.65,1358.12 1293.28,1363.11 1297.91,1282.49 1302.53,1345.59 1307.16,1337.47 1311.79,1424.96 1316.42,1478.68 1321.05,1411.84 1325.68,1393.72 1330.31,1444.95 1334.93,1487.43 1339.56,1521.16 1344.19,1376.23 1348.82,1301.17 1353.45,1324.91 1358.08,1362.49 1362.7,1459.94 1367.33,1489.93 1371.96,1493.67 1376.59,1346 1381.22,942.5 1385.85,1090 1390.47,1230 1395.1,1297.42 1399.73,1328.66 1404.36,1272.43 1408.99,1308.04 1413.62,1304.29 1418.24,1329.91 1422.87,1346.15 1427.5,1234.33 1432.13,1246.2 1436.76,1276.18 1441.38,1291.17 1446.01,1312.41 1450.64,1201.84 1455.27,1219.96 1459.9,1248.7 1464.53,1277.43 1469.15,1294.3 1473.78,1281.18 1478.41,1264.94 1483.04,1269.94 1487.67,1273.06 1492.3,1273.68 1496.92,1271.81 1501.55,1277.45 1506.18,1294.94 1510.81,1309.94 1515.44,1199.37 1520.07,1266.21 1524.69,1369.91 1529.32,1386.77 1533.95,1314.93 1538.58,1188.12 1543.21,1199.99 1547.84,1237.47 1552.47,1314.93 1557.09,1324.93 1561.72,1239.97 1566.35,1169.92 1570.98,1180.54 1575.61,1087.46 1580.24,1129.94 1584.86,1179.92 1589.49,1214.9 1594.12,1222.39 1598.75,1199.91 1603.38,1198.66 1608.01,1198.66 1612.63,1192.41 1617.26,1186.16 1621.89,1193.03 1626.52,1199.91 1631.15,1088.71 1635.78,1034.99 1640.4,1079.97 1645.03,1112.45 1649.66,1149.31 1654.29,1114.95 1658.92,1041.23 1663.55,1062.47 1668.17,1146.18 1672.8,1112.45 1677.43,1048.73 1682.06,1027.49 1686.69,1074.97 1691.32,1133.69 1695.94,1122.44 1700.57,1051.23 1705.2,982 1709.83,1017.5 1714.46,1000 1719.09,1096.21 1723.71,1146.18 1728.34,1154.93 1732.97,1168.67 1737.6,1164.3 1742.23,1182.41 1746.86,1211.15 1751.48,1213.71 1756.11,1199.35 1760.74,1204.97 1765.37,1221.21 1770,1119.32 1774.62,1088.09 1779.25,1147.43 1783.88,1223.71 1788.51,1205.59 1793.14,1128.07 1797.77,1127.44 1802.39,1195 1807.02,1270.56 1811.65,1256.19 1816.28,1184.35 1820.91,1221.21 1825.54,1281.18 1830.16,1329.91 1834.79,1297.42 1839.42,1244.95 1844.05,1248.7 1848.68,1252.44 1853.31,1176.23 1857.93,1204.97 1862.56,1238.7 1867.19,1256.82 1871.82,1268.69 1876.45,1276.81 1881.08,1276.18 1885.7,1284.3 1890.33,1277.43 1894.96,1268.06 1899.59,1264.94 1904.22,1263.69 1908.85,1275.56 1913.48,1273.68 1918.1,1256.19 1922.73,1249.32 1927.36,1352" fill="none" stroke="#000" stroke-width="4.8" stroke-linejoin="round" stroke-linecap="butt"/>
<polyline points="1473.78,1265.83 1476.06,1263.92 1478.34,1262 1480.62,1260.08 1482.9,1258.16 1485.18,1256.24 1487.46,1254.31 1489.74,1252.39 1492.02,1250.47 1494.3,1248.56 1496.58,1246.65 1498.86,1244.75 1501.13,1242.86 1503.41,1240.97 1505.69,1239.1 1507.97,1237.24 1510.25,1235.39 1512.53,1233.55 1514.81,1231.73 1517.09,1229.92 1519.37,1228.13 1521.65,1226.35 1523.93,1224.6 1526.21,1222.86 1528.49,1221.14 1530.77,1219.44 1533.04,1217.76 1535.32,1216.11 1537.6,1214.47 1539.88,1212.86 1542.16,1211.27 1544.44,1209.71 1546.72,1208.17 1549,1206.65 1551.28,1205.16 1553.56,1203.7 1555.84,1202.26 1558.12,1200.85 1560.4,1199.46 1562.68,1198.1 1564.95,1196.78 1567.23,1195.47 1569.51,1194.2 1571.79,1192.96 1574.07,1191.74 1576.35,1190.55 1578.63,1189.4 1580.91,1188.27 1583.19,1187.17 1585.47,1186.1 1587.75,1185.06 1590.03,1184.05 1592.31,1183.07 1594.59,1182.12 1596.86,1181.2 1599.14,1180.31 1601.42,1179.45 1603.7,1178.62 1605.98,1177.82 1608.26,1177.05 1610.54,1176.3 1612.82,1175.59 1615.1,1174.91 1617.38,1174.26 1619.66,1173.63 1621.94,1173.04 1624.22,1172.47 1626.5,1171.93 1628.77,1171.42 1631.05,1170.94 1633.33,1170.48 1635.61,1170.06 1637.89,1169.66 1640.17,1169.28 1642.45,1168.94 1644.73,1168.62 1647.01,1168.33 1649.29,1168.06 1651.57,1167.81 1653.85,1167.6 1656.13,1167.4 1658.4,1167.24 1660.68,1167.09 1662.96,1166.97 1665.24,1166.87 1667.52,1166.8 1669.8,1166.74 1672.08,1166.71 1674.36,1166.7 1676.64,1166.71 1678.92,1166.74 1681.2,1166.8 1683.48,1166.87 1685.76,1166.96 1688.04,1167.07 1690.31,1167.19 1692.59,1167.34 1694.87,1167.5 1697.15,1167.68 1699.43,1167.87 1701.71,1168.08 1703.99,1168.31 1706.27,1168.55 1708.55,1168.81 1710.83,1169.07 1713.11,1169.36 1715.39,1169.65 1717.67,1169.96 1719.95,1170.27 1722.22,1170.6 1724.5,1170.94 1726.78,1171.29 1729.06,1171.65 1731.34,1172.02 1733.62,1172.4 1735.9,1172.79 1738.18,1173.18 1740.46,1173.58 1742.74,1173.99 1745.02,1174.4 1747.3,1174.82 1749.58,1175.25 1751.86,1175.68 1754.13,1176.11 1756.41,1176.55 1758.69,1176.99 1760.97,1177.43 1763.25,1177.88 1765.53,1178.33 1767.81,1178.78 1770.09,1179.23 1772.37,1179.68 1774.65,1180.13 1776.93,1180.59 1779.21,1181.04 1781.49,1181.49 1783.77,1181.94 1786.04,1182.39 1788.32,1182.84 1790.6,1183.28 1792.88,1183.73 1795.16,1184.17 1797.44,1184.6 1799.72,1185.04 1802,1185.47 1804.28,1185.89 1806.56,1186.31 1808.84,1186.73 1811.12,1187.15 1813.4,1187.55 1815.68,1187.96 1817.95,1188.36 1820.23,1188.75 1822.51,1189.14 1824.79,1189.52 1827.07,1189.9 1829.35,1190.27 1831.63,1190.63 1833.91,1190.99 1836.19,1191.34 1838.47,1191.69 1840.75,1192.03 1843.03,1192.37 1845.31,1192.7 1847.59,1193.02 1849.86,1193.34 1852.14,1193.65 1854.42,1193.96 1856.7,1194.26 1858.98,1194.56 1861.26,1194.85 1863.54,1195.14 1865.82,1195.42 1868.1,1195.7 1870.38,1195.97 1872.66,1196.24 1874.94,1196.51 1877.22,1196.77 1879.5,1197.04 1881.77,1197.29 1884.05,1197.55 1886.33,1197.81 1888.61,1198.06 1890.89,1198.32 1893.17,1198.58 1895.45,1198.83 1897.73,1199.09 1900.01,1199.35 1902.29,1199.61 1904.57,1199.88 1906.85,1200.15 1909.13,1200.42 1911.41,1200.7 1913.68,1200.99 1915.96,1201.28 1918.24,1201.58 1920.52,1201.9 1922.8,1202.22 1925.08,1202.55 1927.36,1202.89" fill="none" stroke="#0000ff" stroke-width="3.9" stroke-dasharray="15.5 15.25"/>
<line x1="1473.78" y1="893" x2="1473.78" y2="1593.8" stroke="#000" stroke-width="5.4" stroke-dasharray="15.5 15.25"/>
</g>
<text x="1312.9" y="1520.1" text-anchor="middle" font-family='"Liberation Serif", serif' font-weight="bold" font-size="30.2" textLength="194.8" lengthAdjust="spacing">Training Stage</text>
<rect x="1149.8" y="895.45" width="833.1" height="658.35" fill="none" stroke="#262626" stroke-width="2.6"/>
<path d="M1242.37 1553.8v-9.4 M1242.37 895.45v9.4 M1334.93 1553.8v-9.4 M1334.93 895.45v9.4 M1427.5 1553.8v-9.4 M1427.5 895.45v9.4 M1520.07 1553.8v-9.4 M1520.07 895.45v9.4 M1612.63 1553.8v-9.4 M1612.63 895.45v9.4 M1705.2 1553.8v-9.4 M1705.2 895.45v9.4 M1797.77 1553.8v-9.4 M1797.77 895.45v9.4 M1890.33 1553.8v-9.4 M1890.33 895.45v9.4 M1149.8 1444.08h9.4 M1982.9 1444.08h-9.4 M1149.8 1334.35h9.4 M1982.9 1334.35h-9.4 M1149.8 1224.62h9.4 M1982.9 1224.62h-9.4 M1149.8 1114.9h9.4 M1982.9 1114.9h-9.4 M1149.8 1005.17h9.4 M1982.9 1005.17h-9.4" fill="none" stroke="#262626" stroke-width="2.6"/>
<line x1="1166" y1="1443.6" x2="1456.48" y2="1443.6" stroke="#000" stroke-width="3.7"/>
<polygon points="1148.5,1443.6 1174.85,1434.35 1166.25,1443.6 1174.85,1452.85" fill="#000" stroke="#000" stroke-width="1.5" stroke-linejoin="round"/>
<polygon points="1473.98,1443.6 1447.63,1434.35 1456.23,1443.6 1447.63,1452.85" fill="#000" stroke="#000" stroke-width="1.5" stroke-linejoin="round"/>
<g font-family='"Liberation Serif", serif' font-weight="bold" font-size="28.4" fill="#000">
<text x="1149.8" y="1592.4" text-anchor="middle">0</text>
<text x="1242.37" y="1592.4" text-anchor="middle">20</text>
<text x="1334.93" y="1592.4" text-anchor="middle">40</text>
<text x="1427.5" y="1592.4" text-anchor="middle">60</text>
<text x="1520.07" y="1592.4" text-anchor="middle">80</text>
<text x="1612.63" y="1592.4" text-anchor="middle">100</text>
<text x="1705.2" y="1592.4" text-anchor="middle">120</text>
<text x="1797.77" y="1592.4" text-anchor="middle">140</text>
<text x="1890.33" y="1592.4" text-anchor="middle">160</text>
<text x="1982.9" y="1592.4" text-anchor="middle">180</text>
<text x="1137.8" y="1564.3" text-anchor="end">25</text>
<text x="1137.8" y="1454.58" text-anchor="end">25.5</text>
<text x="1137.8" y="1344.85" text-anchor="end">26</text>
<text x="1137.8" y="1235.12" text-anchor="end">26.5</text>
<text x="1137.8" y="1125.4" text-anchor="end">27</text>
<text x="1137.8" y="1015.67" text-anchor="end">27.5</text>
<text x="1137.8" y="905.95" text-anchor="end">28</text>
</g>
<text x="1565.85" y="1629.7" text-anchor="middle" font-family='"Liberation Serif", serif' font-weight="bold" font-size="31.3">Cycle</text>
<text transform="translate(1073.6 1229.72) rotate(-90)" text-anchor="middle" font-family='"Liberation Sans", "Noto Sans CJK SC", sans-serif' font-weight="bold" font-size="31">IHI4(<tspan font-family='"Noto Sans CJK SC", "Liberation Sans", sans-serif' font-size="31">℃</tspan>)</text>
<rect x="1699.95" y="916.2" width="261.4" height="69.2" fill="#fff" stroke="#262626" stroke-width="2.6"/>
<line x1="1707.75" y1="935.2" x2="1784.75" y2="935.2" stroke="#000" stroke-width="4.8"/>
<line x1="1707.75" y1="966.5" x2="1784.75" y2="966.5" stroke="#0000ff" stroke-width="3.9" stroke-dasharray="15.5 15.25" stroke-dashoffset="0"/>
<g font-family='"Liberation Serif", serif' font-weight="bold" font-size="25.2" fill="#000">
<text x="1790.35" y="944.85">Real IHI4</text>
<text x="1790.35" y="975.7">Predicted IHI4</text>
</g>
<text x="1494.5" y="1695.1" font-family='"Liberation Serif", serif' font-weight="bold" font-size="46.3">(d)</text>
<text x="1567.2" y="1695.1" font-family='"Liberation Serif", serif' font-size="47.5">HI</text>
<text x="1616.9" y="1702.6" font-family='"Liberation Serif", serif' font-size="35">4</text>
</g>
</svg>
</body>
</html>
